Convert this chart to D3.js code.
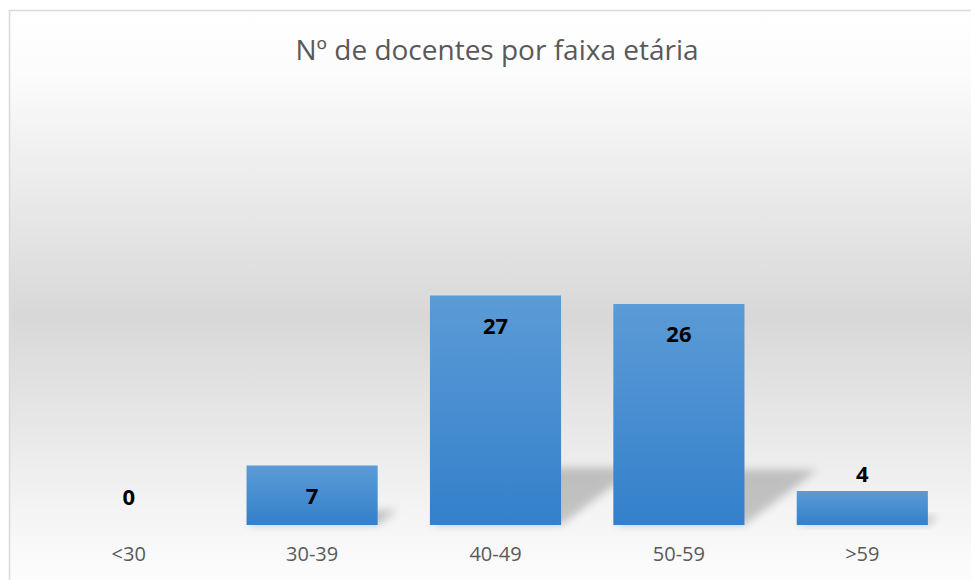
<!DOCTYPE html>
<html>
<head>
<meta charset="utf-8">
<script src="https://cdn.jsdelivr.net/npm/d3@7"></script>
<style>
  html, body { margin: 0; padding: 0; background: #fff; }
  svg { display: block; font-family: "Open Sans", "Noto Sans", sans-serif; }
</style>
</head>
<body>
<svg id="chart_svg" width="971" height="580"></svg>
<script>
var categories = ["<30", "30-39", "40-49", "50-59", ">59"];
var values = [0, 7, 27, 26, 4];
var chartTitle = "Nº de docentes por faixa etária";

var W = 971, H = 580;
var BASE = 525, TOP_Y = 270;

function drawBarChart() {
  var svg = d3.select("#chart_svg");
  var defs = svg.append("defs");

  // background gradient: white -> gray -> white
  var bg = defs.append("linearGradient").attr("id", "bgGrad")
    .attr("x1", 0).attr("y1", 0).attr("x2", 0).attr("y2", 1);
  bg.append("stop").attr("offset", "0%").attr("stop-color", "#ffffff");
  bg.append("stop").attr("offset", "10%").attr("stop-color", "#fcfcfc");
  bg.append("stop").attr("offset", "52%").attr("stop-color", "#d8d8d8");
  bg.append("stop").attr("offset", "85%").attr("stop-color", "#f4f4f4");
  bg.append("stop").attr("offset", "100%").attr("stop-color", "#ffffff");

  var barGrad = defs.append("linearGradient").attr("id", "barGrad")
    .attr("x1", 0).attr("y1", 0).attr("x2", 0).attr("y2", 1);
  barGrad.append("stop").attr("offset", "0%").attr("stop-color", "#5b9bd6");
  barGrad.append("stop").attr("offset", "100%").attr("stop-color", "#3480cb");

  defs.append("filter").attr("id", "blur")
    .attr("x", "-50%").attr("y", "-50%").attr("width", "200%").attr("height", "200%")
    .append("feGaussianBlur").attr("stdDeviation", 4.5);

  // chart area box (right and bottom edges run off the picture)
  svg.append("rect")
    .attr("x", 9.5).attr("y", 10.5).attr("width", 975).attr("height", 590)
    .attr("fill", "url(#bgGrad)").attr("stroke", "#d9d9d9").attr("stroke-width", 1.5);

  svg.append("text")
    .attr("x", 497).attr("y", 60)
    .attr("text-anchor", "middle")
    .attr("font-size", 28)
    .attr("fill", "#595959")
    .text(chartTitle);

  var x = d3.scaleBand().domain(categories).range([37, 954]).paddingInner(0.285).paddingOuter(0.1425);
  var y = d3.scaleLinear().domain([0, 30]).range([BASE, TOP_Y]);

  // perspective shadows
  svg.append("g").selectAll("polygon").data(values).enter().append("polygon")
    .attr("points", function (d, i) {
      var x0 = x(categories[i]), x1 = x0 + x.bandwidth();
      var h = BASE - y(d);
      var dx = h * 0.33, dy = h * 0.25;
      return [[x0, BASE], [x1, BASE], [x1 + dx, BASE - dy], [x0 + dx, BASE - dy]].join(" ");
    })
    .attr("fill", "#000").attr("opacity", 0.2).attr("filter", "url(#blur)");

  svg.append("g").selectAll("rect").data(values).enter().append("rect")
    .attr("x", function (d, i) { return x(categories[i]); })
    .attr("y", function (d) { return y(d); })
    .attr("width", x.bandwidth())
    .attr("height", function (d) { return BASE - y(d); })
    .attr("fill", "url(#barGrad)");

  // data labels: inside end when the bar is tall enough, otherwise above
  svg.append("g").selectAll("text").data(values).enter().append("text")
    .attr("x", function (d, i) { return x(categories[i]) + x.bandwidth() / 2; })
    .attr("y", function (d) {
      var h = BASE - y(d);
      if (h >= 50) return y(d) + 38;
      if (d === 0) return BASE - 20;
      return y(d) - 9;
    })
    .attr("text-anchor", "middle")
    .attr("font-size", 22)
    .attr("font-weight", "bold")
    .attr("fill", "#000")
    .text(function (d) { return d; });

  var xAxis = svg.append("g")
    .attr("transform", "translate(0," + BASE + ")")
    .call(d3.axisBottom(x).tickSize(0).tickPadding(22));
  xAxis.select(".domain").remove();
  xAxis.selectAll("text")
    .attr("font-size", 20)
    .attr("font-family", "\"Open Sans\", sans-serif")
    .attr("fill", "#595959");
}

window.addEventListener("load", drawBarChart);
</script>
</body>
</html>
